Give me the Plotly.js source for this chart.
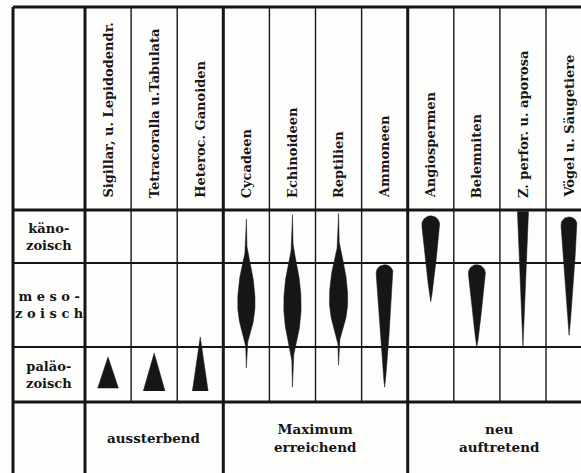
<!DOCTYPE html>
<html><head><meta charset="utf-8">
<script src="https://cdn.plot.ly/plotly-3.0.1.min.js"></script>
<style>html,body{margin:0;padding:0;background:#fff}</style>
</head><body><div id="chart" style="width:581px;height:473px"></div>
<script>
// ---- data ----
const taxa = ['Sigillar, u. Lepidodendr.', 'Tetracoralla u.Tabulata', 'Heteroc. Ganoiden',
  'Cycadeen', 'Echinoideen', 'Reptilien', 'Ammoneen',
  'Angiospermen', 'Belemniten', 'Z. perfor. u. aporosa', 'Vögel u. Säugetiere'];
const eras = ['paläo-<br>zoisch', 'm e s o -<br>z o i s c h', 'käno-<br>zoisch'];
const groups = ['aussterbend', 'Maximum<br>erreichend', 'neu<br>auftretend'];
const groupFirst = [0, 3, 7];
const groupLast = [2, 6, 10];
// time in era units: 0 = begin paläozoisch, 1 = begin mesozoisch, 2 = begin känozoisch, 3 = present
const shapeType = ['cone', 'cone', 'cone', 'lens', 'lens', 'lens', 'drop', 'drop', 'drop', 'wedge', 'drop'];
const startEra = [0.25, 0.20, 0.20, 0.62, 0.27, 0.67, 0.27, 1.54, 1.00, 1.00, 1.14];
const peakEra  = [0.25, 0.20, 0.20, 1.52, 1.50, 1.56, 1.85, 2.80, 1.85, 2.97, 2.80];
const endEra   = [0.82, 0.89, 1.12, 2.83, 2.91, 2.94, 1.98, 2.89, 1.98, 2.97, 2.87];
const maxWidth = [0.45, 0.47, 0.34, 0.38, 0.38, 0.40, 0.37, 0.39, 0.37, 0.24, 0.35]; // share of a column

// ---- layout constants ----
const W = 581, H = 473;
const xRange = [-2.344, 10.259];
const yRange = [-71, 402];
const eraEdges = [0, 55, 139, 192];
const headerTop = 395;
const labelLeft = -2.062;
const pxX = W / (xRange[1] - xRange[0]);
const pxY = H / (yRange[1] - yRange[0]);
const ink = '#161616';
const serif = 'DejaVu Serif';

function eraY(e) {
  const i = Math.min(Math.floor(e), 2);
  return eraEdges[i] + (e - i) * (eraEdges[i + 1] - eraEdges[i]);
}

function profile(k) {
  const t = shapeType[k];
  const y0 = eraY(startEra[k]), yp = eraY(peakEra[k]), y1 = eraY(endEra[k]);
  const R = maxWidth[k] / 2;
  const N = 200;
  const pts = [];
  for (let j = 0; j <= N; j++) {
    const y = y0 + (y1 - y0) * j / N;
    let h = 0;
    if (t === 'cone') {
      h = R * (1 - (y - y0) / (y1 - y0));
    } else if (t === 'wedge') {
      h = R * (y - y0) / (y1 - y0);
    } else if (t === 'lens') {
      const u = y < yp ? (y - yp) / (yp - y0) : (y - yp) / (y1 - yp);
      const tail = 1.1 / pxX;
      const a = 0.64;
      const body = Math.max(0, 1 - (u / a) * (u / a));
      h = (R - tail) * Math.pow(body, 1.15) + tail * Math.pow(1 - Math.abs(u), 0.5);
    } else if (t === 'drop') {
      const Rpx = R * pxX;
      const yc = y1 - Rpx / pxY;
      if (y <= yc) {
        h = R * Math.pow(Math.max(0, (y - y0) / (yc - y0)), 0.85);
      } else {
        const d = (y - yc) * pxY;
        h = Math.sqrt(Math.max(0, Rpx * Rpx - d * d)) / pxX;
      }
    }
    pts.push([y, h]);
  }
  return pts;
}

const traces = taxa.map((name, k) => {
  const p = profile(k);
  const xs = [], ys = [];
  p.forEach(([y, h]) => { xs.push(k + h); ys.push(y); });
  for (let j = p.length - 1; j >= 0; j--) { xs.push(k - p[j][1]); ys.push(p[j][0]); }
  return { type: 'scatter', mode: 'lines', x: xs, y: ys, fill: 'toself',
    fillcolor: ink, line: { color: ink, width: 0.5 }, hoverinfo: 'name', name: name, showlegend: false };
});

// ---- grid ----
const shapes = [];
function seg(x0, y0, x1, y1, w) {
  shapes.push({ type: 'line', xref: 'x', yref: 'y', x0, y0, x1, y1, line: { color: ink, width: w } });
}
const nCols = taxa.length;
for (let c = 0; c < nCols; c++) {
  const xb = c + 0.5;
  if (groupLast.indexOf(c) === -1) seg(xb, headerTop, xb, eraEdges[0], 1.4);
}
seg(labelLeft, headerTop, labelLeft, yRange[0], 3);
seg(-0.5, headerTop, -0.5, yRange[0], 3);
groupLast.forEach(c => { if (c + 0.5 < xRange[1]) seg(c + 0.5, headerTop, c + 0.5, yRange[0], 3); });
seg(labelLeft, headerTop, xRange[1], headerTop, 3);
seg(labelLeft, eraEdges[3], xRange[1], eraEdges[3], 3);
seg(labelLeft, eraEdges[2], xRange[1], eraEdges[2], 1.8);
seg(labelLeft, eraEdges[1], xRange[1], eraEdges[1], 1.8);
seg(labelLeft, eraEdges[0], xRange[1], eraEdges[0], 3);

// ---- text ----
const annotations = [];
taxa.forEach((name, k) => {
  annotations.push({ x: k, y: eraEdges[3] + 10, xref: 'x', yref: 'y', text: name, showarrow: false,
    textangle: -90, xanchor: 'center', yanchor: 'bottom',
    font: { family: serif, size: 13, color: ink, weight: 'bold' } });
});
eras.forEach((txt, i) => {
  annotations.push({ x: (labelLeft - 0.5) / 2, y: (eraEdges[i] + eraEdges[i + 1]) / 2, xref: 'x', yref: 'y',
    text: txt, showarrow: false, xanchor: 'center', yanchor: 'middle',
    font: { family: serif, size: 13, color: ink, weight: 'bold' } });
});
groups.forEach((txt, g) => {
  annotations.push({ x: (groupFirst[g] + groupLast[g]) / 2, y: (eraEdges[0] + yRange[0]) / 2,
    xref: 'x', yref: 'y', text: txt, showarrow: false, xanchor: 'center', yanchor: 'middle',
    font: { family: serif, size: 13.5, color: ink, weight: 'bold' } });
});

const layout = {
  width: W, height: H, margin: { l: 0, r: 0, t: 0, b: 0 },
  paper_bgcolor: '#fdfdfc', plot_bgcolor: '#fdfdfc',
  xaxis: { range: xRange, visible: false, fixedrange: true },
  yaxis: { range: yRange, visible: false, fixedrange: true },
  shapes, annotations, showlegend: false
};
Plotly.newPlot('chart', traces, layout, { staticPlot: true, displayModeBar: false });
</script>
</body></html>
